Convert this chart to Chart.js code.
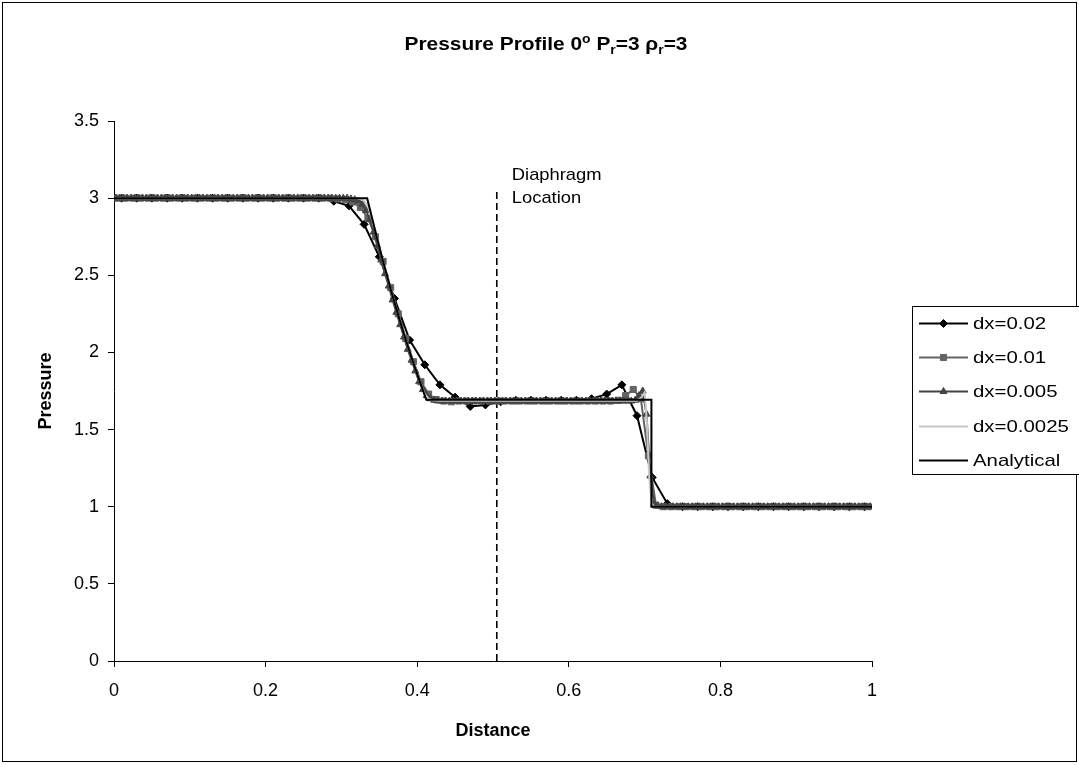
<!DOCTYPE html>
<html><head><meta charset="utf-8">
<script src="https://cdn.jsdelivr.net/npm/chart.js@4.4.1/dist/chart.umd.min.js"></script>
<style>html,body{margin:0;padding:0;background:#fff}canvas{display:block}</style>
</head><body>
<canvas id="c" width="1079" height="765"></canvas>
<script>
// ---------------- data ----------------
const seriesNames = ['dx=0.02', 'dx=0.01', 'dx=0.005', 'dx=0.0025', 'Analytical'];
const gridSteps = [0.02, 0.01, 0.005];           // cell sizes of the marker series (values at cell centres)
const xTicks = [0, 0.2, 0.4, 0.6, 0.8, 1];
const yTicks = [0, 0.5, 1, 1.5, 2, 2.5, 3, 3.5];

const p_dx002 = [
  3,3,3,3,3,3,3,3,3,3, 3,3,3,3,
  2.98,2.95,2.83,2.62,2.35,2.08,1.92,1.79,1.71,1.65,1.66,1.68,
  1.69,1.69,1.69,1.69,1.69,
  1.70,1.73,1.79,1.59,1.19,1.02,
  1,1,1,1,1,1,1,1,1,1, 1,1,1
];
const p_dx001 = [
  3,3,3,3,3,3,3,3,3,3, 3,3,3,3,3,3,3,3,3,3, 3,3,3,3,3,3,3,3,3,
  2.995,2.99,2.975,2.94,2.87,2.75,2.59,2.42,2.25,2.09,1.94,1.81,1.73,1.695,1.685,1.68,
  1.685,1.685,1.685,1.685,1.685,1.685,1.685,1.685,1.685,1.685,
  1.685,1.685,1.685,1.685,1.685,1.685,1.685,1.685,1.685,1.685,1.685,
  1.69,1.72,1.76,1.70,1.33,1.01,
  1,1,1,1,1,1,1,1,1,1, 1,1,1,1,1,1,1,1,1,1, 1,1,1,1,1,1,1,1
];
const p_dx0005 = [
  3,3,3,3,3,3,3,3,3,3, 3,3,3,3,3,3,3,3,3,3, 3,3,3,3,3,3,3,3,3,3,
  3,3,3,3,3,3,3,3,3,3, 3,3,3,3,3,3,3,3,3,3, 3,3,3,3,3,3,3,3,3,3, 3,3,
  2.995,2.99,2.98,2.96,2.92,2.86,2.78,2.69,2.60,2.51,2.43,2.34,2.26,2.18,2.10,2.02,1.95,1.88,1.81,1.76,1.72,1.70,1.69,
  1.685,1.685,1.685,1.685,1.685,1.685,1.685,1.685,1.685,1.685,
  1.685,1.685,1.685,1.685,1.685,1.685,1.685,1.685,1.685,1.685,
  1.685,1.685,1.685,1.685,1.685,1.685,1.685,1.685,1.685,1.685,
  1.685,1.685,1.685,1.685,1.685,1.685,1.685,1.685,1.685,1.685,
  1.685,1.685,1.685,1.685,1.685,1.685,1.685,1.685,1.685,1.685,
  1.685,1.685,
  1.69,1.72,1.75,1.60,1.20,1.02,1.005,
  1,1,1,1,1,1,1,1,1,1, 1,1,1,1,1,1,1,1,1,1, 1,1,1,1,1,1,1,1,1,1,
  1,1,1,1,1,1,1,1,1,1, 1,1,1,1,1,1,1,1,1,1, 1,1,1,1,1,1
];
const x_dx00025 = [0.00125,0.32,0.328,0.335,0.345,0.355,0.365,0.375,0.385,0.395,0.405,0.41,0.415,0.42,0.43,0.69,0.696,0.7,0.703,0.706,0.709,0.712,0.99875];
const p_dx00025 = [3,3,2.99,2.95,2.79,2.59,2.41,2.24,2.08,1.93,1.79,1.73,1.70,1.69,1.686,1.686,1.71,1.74,1.55,1.2,1.03,1,1];
const x_exact = [0,0.334,0.345,0.355,0.365,0.375,0.385,0.395,0.405,0.412,0.709,0.709,1];
const p_exact = [3,3,2.78,2.59,2.41,2.24,2.08,1.93,1.79,1.693,1.693,1,1];
const x_diaphragm = [0.505, 0.505];
const p_diaphragm = [0, 3.05];
const annotation = ['Diaphragm', 'Location'];

// ---------------- helpers ----------------
const FONT = '"Liberation Sans", Arial, sans-serif';
const onGrid = (vals, dx) => vals.map((v, i) => ({x: +(dx * (i + 0.5)).toFixed(5), y: v}));
const pairs = (xs, ys) => xs.map((x, i) => ({x: x, y: ys[i]}));

const datasets = [
  {label: seriesNames[0], data: onGrid(p_dx002, gridSteps[0]), borderColor: '#000000', backgroundColor: '#000000',
   pointStyle: 'rectRot', pointRadius: 4, borderWidth: 2, order: 4},
  {label: seriesNames[1], data: onGrid(p_dx001, gridSteps[1]), borderColor: '#636363', backgroundColor: '#636363',
   pointStyle: 'rect', pointRadius: 4.3, borderWidth: 2, order: 3},
  {label: seriesNames[2], data: onGrid(p_dx0005, gridSteps[2]), borderColor: '#444444', backgroundColor: '#444444',
   pointStyle: 'triangle', pointRadius: 4, borderWidth: 2, order: 2},
  {label: seriesNames[3], data: pairs(x_dx00025, p_dx00025), borderColor: '#c8c8c8', backgroundColor: '#c8c8c8',
   pointRadius: 0, borderWidth: 2, order: 1},
  {label: seriesNames[4], data: pairs(x_exact, p_exact), borderColor: '#000000', backgroundColor: '#000000',
   pointRadius: 0, borderWidth: 2, order: 0},
  {label: 'diaphragm', data: pairs(x_diaphragm, p_diaphragm), borderColor: '#000000', borderDash: [7, 4],
   pointRadius: 0, borderWidth: 1.6, order: 5}
];
datasets.forEach(d => { d.showLine = true; d.tension = 0; d.pointBorderWidth = 1; d.pointBorderColor = d.borderColor;
  d.pointBackgroundColor = d.backgroundColor; d.fill = false; });

function wideText(ctx, text, x, y, sx) {
  ctx.save(); ctx.translate(x, y); ctx.scale(sx, 1); ctx.fillText(text, 0, 0); ctx.restore();
  return ctx.measureText(text).width * sx;
}

const decor = {
  id: 'decor',
  beforeDraw(chart) {
    const ctx = chart.ctx;
    ctx.save(); ctx.fillStyle = '#fff'; ctx.fillRect(0, 0, chart.width, chart.height); ctx.restore();
  },
  afterDraw(chart) {
    const ctx = chart.ctx, xs = chart.scales.x;
    ctx.save();
    // outer border
    ctx.strokeStyle = '#000'; ctx.lineWidth = 1;
    ctx.strokeRect(2.5, 2.5, 1074, 759);
    // title with super/subscripts
    const SX = 1.16;
    const big = 'bold 18px ' + FONT, small = 'bold 12px ' + FONT;
    const parts = [['Pressure Profile 0', big, 0], ['o', small, -7], [' P', big, 0], ['r', small, 4],
                   ['=3 \u03c1', big, 0], ['r', small, 4], ['=3', big, 0]];
    let w = 0; parts.forEach(p => { ctx.font = p[1]; w += ctx.measureText(p[0]).width * SX; });
    let x = 546 - w / 2; const base = 50;
    ctx.fillStyle = '#000'; ctx.textBaseline = 'alphabetic'; ctx.textAlign = 'left';
    parts.forEach(p => { ctx.font = p[1]; x += wideText(ctx, p[0], x, base + p[2], SX); });
    // annotation
    ctx.font = '17px ' + FONT;
    const ax = xs.getPixelForValue(x_diaphragm[0]) + 15;
    wideText(ctx, annotation[0], ax, 180, 1.08);
    wideText(ctx, annotation[1], ax, 203, 1.08);
    // legend
    ctx.fillStyle = '#fff'; ctx.fillRect(912.5, 306.5, 200, 168);
    ctx.strokeStyle = '#000'; ctx.lineWidth = 1;
    ctx.strokeRect(912.5, 306.5, 200, 168);
    ctx.font = '17px ' + FONT; ctx.textBaseline = 'middle';
    for (let i = 0; i < 5; i++) {
      const d = chart.data.datasets[i]; const yy = Math.round(323 + i * 34.2) + 0.5;
      ctx.strokeStyle = d.borderColor; ctx.lineWidth = 2; ctx.setLineDash([]);
      ctx.beginPath(); ctx.moveTo(919, yy); ctx.lineTo(968, yy); ctx.stroke();
      if (d.pointRadius > 0) {
        ctx.fillStyle = d.backgroundColor; ctx.lineWidth = 1;
        Chart.helpers.drawPoint(ctx, {pointStyle: d.pointStyle, radius: d.pointRadius, borderWidth: 1}, 943.5, yy);
      }
      ctx.fillStyle = '#000';
      wideText(ctx, d.label, 973, yy + 1, 1.2);
    }
    ctx.restore();
  }
};

new Chart(document.getElementById('c'), {
  type: 'scatter',
  data: {datasets: datasets},
  plugins: [decor],
  options: {
    responsive: false, animation: false, devicePixelRatio: 1,
    layout: {padding: {top: 121, right: 207, bottom: 0, left: 0}},
    plugins: {legend: {display: false}, tooltip: {enabled: false}, title: {display: false}},
    scales: {
      x: {
        type: 'linear', min: 0, max: 1,
        afterBuildTicks: s => { s.ticks = xTicks.map(v => ({value: v})); },
        afterFit: s => { s.height = 104; },
        border: {display: true, color: '#000', width: 1},
        grid: {drawOnChartArea: false, drawTicks: true, tickLength: 6, color: '#000'},
        ticks: {color: '#000', font: {family: FONT, size: 18}, padding: 13, maxRotation: 0, callback: v => String(v)},
        title: {display: true, text: 'Distance', color: '#000', font: {family: FONT, size: 18, weight: 'bold'},
                padding: {top: 0, bottom: 23}}
      },
      y: {
        type: 'linear', min: 0, max: 3.5,
        afterBuildTicks: s => { s.ticks = yTicks.map(v => ({value: v})); },
        afterFit: s => { s.width = 114; },
        border: {display: true, color: '#000', width: 1},
        grid: {drawOnChartArea: false, drawTicks: true, tickLength: 6, color: '#000'},
        ticks: {color: '#000', font: {family: FONT, size: 18}, padding: 9, callback: v => String(v)},
        title: {display: true, text: 'Pressure', color: '#000', font: {family: FONT, size: 18, weight: 'bold'},
                padding: {top: 35, bottom: 0}}
      }
    }
  }
});
</script>
</body></html>
